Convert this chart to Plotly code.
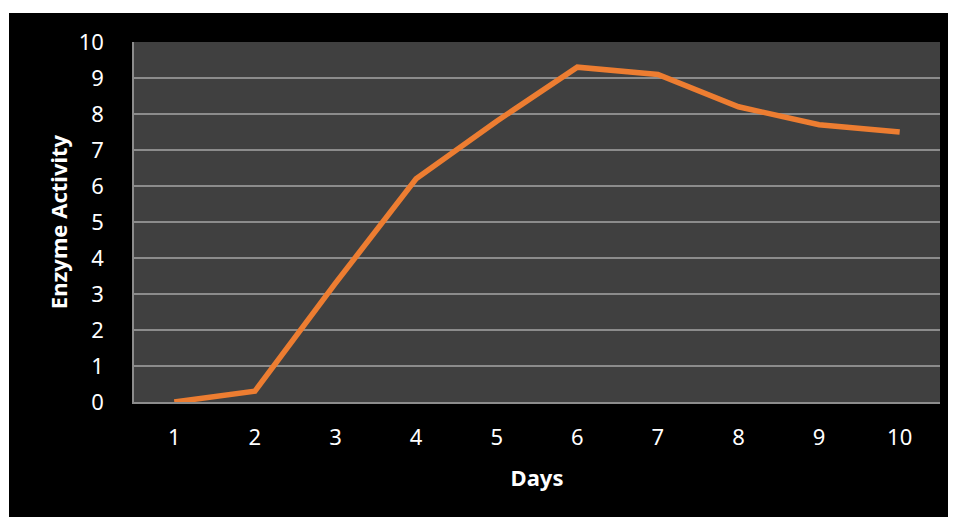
import plotly.graph_objects as go

days = ["1", "2", "3", "4", "5", "6", "7", "8", "9", "10"]
activity = [0, 0.3, 3.3, 6.2, 7.8, 9.3, 9.1, 8.2, 7.7, 7.5]
y_ticks = [0, 1, 2, 3, 4, 5, 6, 7, 8, 9, 10]

# page body has an 8px margin; compensate so the plot lands where the reference has it
W, H = 956, 509
ml, mr, mt, mb = 126, 24, 34, 115
pw, ph = W - ml - mr, H - mt - mb

def px_x(p):
    return (p - ml) / pw

def px_y(p):
    return (H - mb - p) / ph

fig = go.Figure()
fig.add_trace(go.Scatter(
    x=days, y=activity, mode="lines",
    line=dict(color="#ED7D31", width=5.5),
    cliponaxis=False, showlegend=False,
))

font = "Noto Sans"
fig.update_layout(
    width=W, height=H,
    margin=dict(l=ml, r=mr, t=mt, b=mb),
    paper_bgcolor="#000000",
    plot_bgcolor="#404040",
    font=dict(family=font, color="#ffffff", size=22),
    xaxis=dict(
        type="category", range=[-0.5, 9.5],
        showgrid=False, showline=True, linecolor="#8c8c8c", linewidth=2,
        ticks="", ticklabelstandoff=15,
        tickfont=dict(size=22, color="#ffffff"),
        title=dict(text="<b>Days</b>", font=dict(size=22, color="#ffffff"), standoff=20),
    ),
    yaxis=dict(
        range=[0, 10], tickvals=y_ticks,
        showgrid=True, gridcolor="#8c8c8c", gridwidth=1.5,
        showline=True, linecolor="#8c8c8c", linewidth=1.5,
        zeroline=False, ticks="", ticklabelstandoff=24,
        tickfont=dict(size=22, color="#ffffff"),
        title=dict(text="<b>Enzyme Activity</b>", font=dict(size=22, color="#ffffff"), standoff=5),
    ),
    shapes=[
        dict(type="rect", xref="paper", yref="paper",
             x0=px_x(-5), x1=px_x(W + 5), y0=px_y(5), y1=px_y(-5),
             fillcolor="#ffffff", line=dict(width=0), layer="above"),
        dict(type="rect", xref="paper", yref="paper",
             x0=px_x(-5), x1=px_x(1), y0=px_y(H + 5), y1=px_y(-5),
             fillcolor="#ffffff", line=dict(width=0), layer="above"),
    ],
)

fig.write_html("out.html")
